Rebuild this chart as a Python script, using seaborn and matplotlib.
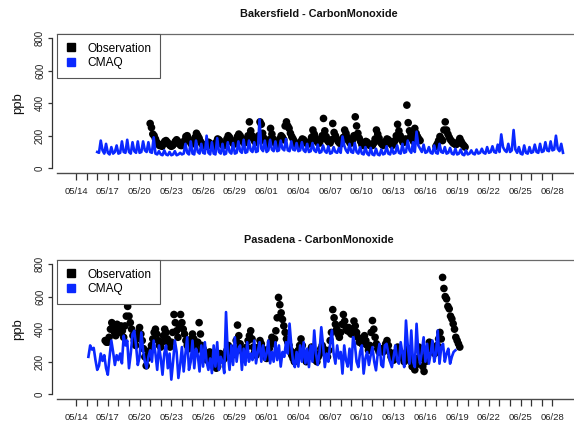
import numpy as np
import pandas as pd
import matplotlib
matplotlib.use("Agg")
import matplotlib.pyplot as plt
import matplotlib.transforms as mtransforms
from matplotlib.lines import Line2D
import seaborn as sns

plt.rcParams['font.family'] = ['Liberation Sans', 'DejaVu Sans']

nan = np.nan

# ---- data, x = days since 05/14 ----
date_labels = ["05/14", "05/17", "05/20", "05/23", "05/26", "05/29", "06/01", "06/04",
               "06/07", "06/10", "06/13", "06/16", "06/19", "06/22", "06/25", "06/28"]
y_ticks = [0, 200, 400, 600, 800]
cmaq_per_day = 6   # model values every 4 h
obs_per_day = 8    # observations every 3 h

bak_cmaq_start = 2
bak_cmaq = [
    100, 95, 170, 110, 90, 150,
    95, 85, 130, 90, 100, 140,
    90, 95, 165, 100, 95, 175,
    100, 90, 160, 105, 95, 165,
    95, 100, 165, 110, 100, 160,
    100, 95, 190, 90, 85, 105,
    85, 80, 110, 85, 80, 100,
    80, 85, 105, 80, 85, 95,
    85, 90, 150, 95, 85, 165,
    90, 85, 170, 100, 90, 150,
    95, 90, 200, 95, 85, 160,
    90, 85, 185, 100, 90, 150,
    85, 90, 160, 100, 90, 155,
    90, 95, 165, 105, 95, 175,
    95, 100, 170, 110, 100, 160,
    100, 105, 300, 120, 105, 170,
    100, 110, 175, 115, 105, 165,
    105, 110, 170, 120, 110, 180,
    110, 105, 165, 115, 110, 155,
    105, 110, 160, 110, 100, 150,
    100, 105, 155, 110, 100, 145,
    95, 100, 140, 105, 95, 135,
    90, 95, 130, 100, 95, 125,
    95, 195, 140, 110, 95, 150,
    100, 95, 155, 100, 90, 130,
    90, 85, 130, 90, 80, 125,
    85, 80, 120, 85, 80, 115,
    85, 90, 135, 90, 85, 125,
    90, 95, 140, 95, 90, 150,
    95, 100, 170, 110, 95, 160,
    100, 225, 140, 120, 100, 145,
    95, 100, 130, 95, 90, 140,
    95, 90, 150, 100, 95, 130,
    90, 95, 125, 90, 85, 120,
    85, 90, 115, 85, 80, 110,
    85, 90, 110, 90, 85, 115,
    90, 95, 120, 95, 90, 130,
    95, 100, 135, 100, 95, 145,
    100, 208, 130, 110, 100, 150,
    100, 110, 235, 115, 95, 130,
    90, 85, 140, 95, 90, 130,
    95, 100, 145, 100, 95, 150,
    100, 105, 160, 110, 105, 165,
    110, 115, 200, 120, 105, 150,
    95,
]

bak_obs_start = 7
bak_obs = [
    275, 250, 210, 200, 180, 160, 150, 140,
    140, 135, 150, 165, 170, 160, 150, 140,
    135, 140, 150, 165, 175, 165, 150, 140,
    140, 150, 170, 195, 200, 180, 165, 150,
    150, 165, 190, 215, 200, 185, 165, 150,
    145, 140, 135, 150, 160, 155, 140, 135,
    130, 140, 160, 180, 175, 165, 150, 140,
    140, 155, 180, 200, 190, 175, 160, 150,
    150, 170, 195, 210, 200, 185, 165, 155,
    160, 180, 200, 285, 230, 200, 180, 165,
    160, 180, 200, 285, 270, 215, 185, 165,
    145, 155, 175, 245, 210, 180, 160, 150,
    145, 160, 180, 200, 190, 175, 260, 285,
    260, 245, 215, 195, 180, 165, 150, 145,
    140, 150, 165, 180, 175, 165, 155, 150,
    150, 165, 190, 235, 210, 185, 165, 155,
    155, 175, 200, 306, 230, 195, 170, 160,
    155, 175, 275, 220, 200, 180, 165, 155,
    150, 165, 190, 235, 215, 190, 170, 155,
    155, 175, 200, 316, 260, 215, 185, 165,
    145, 140, 150, 165, 160, 150, 140, 140,
    140, 155, 180, 235, 210, 185, 160, 150,
    140, 150, 165, 180, 175, 165, 150, 140,
    150, 170, 200, 270, 230, 200, 175, 160,
    160, 180, 388, 280, 230, 200, 180, 165,
    245, 215, 195, 180, 170, nan, nan, nan,
    nan, nan, nan, nan, nan, nan, nan, nan,
    135, 150, 170, 195, 180, 170, 235, 285,
    235, 210, 190, 175, 165, 155, 150, 145,
    150, 165, 183, 165, 150, 140, 130, nan,
]

pas_cmaq_start = 1
pas_cmaq = [
    nan, 230, 300, 275, 285, 210,
    150, 175, 250, 205, 240, 160,
    120, 230, 330, 260, 180, 240,
    210, 250, 190, 360, 300, 330,
    160, 250, 370, 390, 300, 180,
    230, 380, 270, 200, 160, 230,
    270, 200, 330, 250, 150, 300,
    220, 120, 250, 300, 160, 250,
    90, 200, 330, 260, 100, 180,
    290, 140, 250, 350, 150, 200,
    330, 160, 280, 240, 140, 300,
    170, 320, 200, 150, 220, 130,
    300, 170, 320, 150, 230, 200,
    130, 505, 250, 150, 300, 180,
    350, 200, 280, 300, 150, 280,
    180, 320, 200, 250, 210, 330,
    190, 260, 320, 200, 300, 210,
    250, 330, 190, 260, 200, 320,
    210, 300, 170, 260, 230, 320,
    250, 434, 300, 200, 167, 260,
    170, 300, 200, 320, 190, 280,
    167, 300, 200, 392, 250, 180,
    260, 412, 300, 167, 250, 200,
    310, 392, 250, 188, 300, 220,
    260, 127, 300, 210, 170, 280,
    150, 351, 310, 200, 167, 260,
    300, 127, 220, 260, 180, 240,
    290, 200, 147, 250, 310, 180,
    167, 300, 310, 250, 200, 167,
    230, 300, 208, 188, 320, 250,
    167, 453, 300, 188, 392, 200,
    167, 433, 250, 188, 260, 350,
    200, 310, 188, 250, 330, 200,
    250, 392, 188, 290, 310, 200,
    250, 280, 188, 230, 260, 270,
]

pas_obs_start = 2
pas_obs = [
    nan, nan, nan, nan, nan, nan, 330, 320,
    320, 350, 400, 440, 420, 380, 360, 430,
    400, 380, 420, 390, 350, 420, 480, 540,
    480, 440, 400, 360, 330, 300, 340, 380,
    410, 370, 330, 280, 230, 175, 220, 260,
    270, 300, 340, 380, 400, 370, 330, 300,
    290, 320, 360, 400, 380, 340, 310, 290,
    320, 380, 490, 440, 390, 350, 420, 490,
    440, 400, 370, 330, 300, 280, 310, 340,
    370, 340, 300, 270, 320, 440, 370, 300,
    280, 250, 230, 210, 240, 260, 240, 220,
    200, 180, 160, 170, 210, 250, 230, 210,
    220, 240, 270, 300, 290, 260, 240, 250,
    280, 330, 425, 360, 310, 280, 260, 250,
    260, 290, 330, 360, 390, 340, 290, 260,
    240, 260, 290, 330, 310, 280, 250, 230,
    220, 240, 280, 320, 350, 310, 340, 390,
    470, 595, 550, 500, 460, 420, 380, 340,
    320, 300, 270, 240, 220, 200, 230, 260,
    270, 300, 340, 300, 250, 220, 200, 230,
    240, 270, 290, 260, 230, 210, 200, 230,
    250, 280, 300, 280, 260, 240, 230, 270,
    330, 380, 520, 470, 430, 400, 370, 350,
    380, 430, 490, 450, 410, 390, 410, 380,
    370, 400, 450, 420, 380, 350, 320, 330,
    310, 340, 360, 330, 300, 270, 300, 380,
    453, 400, 350, 310, 280, 260, 270, 280,
    260, 280, 310, 330, 300, 260, 230, 210,
    210, 230, 260, 290, 270, 250, 230, 220,
    200, 230, 260, 280, 240, 200, 170, 180,
    150, 180, 220, 290, 260, 220, 170, 140,
    200, 240, 280, 320, 310, 280, 260, 250,
    260, 300, 340, 380, 340, 718, 650, 600,
    586, 540, 525, 480, 463, 433, 400, 350,
    330, 310, 290, nan, nan, nan, nan, nan,
]

BLUE = "#0a28ff"
W, H = 574, 422
AX_LEFT, AX_W, AX_H = 57, 524, 139.3

fig = plt.figure(figsize=(W / 100, H / 100), dpi=100)

panels = [
    ("Bakersfield - CarbonMonoxide", bak_obs, bak_obs_start, bak_cmaq, bak_cmaq_start, 34.0),
    ("Pasadena - CarbonMonoxide", pas_obs, pas_obs_start, pas_cmaq, pas_cmaq_start, 260.0),
]

for title, obs, obs0, cmaq, cmaq0, top_px in panels:
    ax = fig.add_axes([AX_LEFT / W, 1 - (top_px + AX_H) / H, AX_W / W, AX_H / H])
    obs_df = pd.DataFrame({"day": obs0 + np.arange(len(obs)) / obs_per_day,
                           "ppb": obs}).dropna()
    cm_df = pd.DataFrame({"day": cmaq0 + np.arange(len(cmaq)) / cmaq_per_day,
                          "ppb": cmaq}).dropna()
    sns.scatterplot(data=obs_df, x="day", y="ppb", color="black", s=30,
                    edgecolor="none", linewidth=0, ax=ax, legend=False, zorder=2)
    sns.lineplot(data=cm_df, x="day", y="ppb", color=BLUE, linewidth=1.9,
                 estimator=None, sort=False, ax=ax, legend=False, zorder=3)

    ax.set_xlim(-1.8, 47.7)
    ax.set_ylim(-31, 825)
    ax.set_xlabel("")
    ax.set_ylabel("")
    ax.set_facecolor("white")

    ax.spines["right"].set_visible(False)
    ax.spines["top"].set_color("#6a6a6a")
    ax.spines["top"].set_linewidth(0.9)
    ax.spines["bottom"].set_color("#4a4a4a")
    ax.spines["bottom"].set_linewidth(1.0)
    ax.spines["left"].set_position(("outward", 3.6))
    ax.spines["left"].set_bounds(0, 800)
    ax.spines["left"].set_color("#333333")
    ax.spines["left"].set_linewidth(0.9)

    major = list(range(0, 46, 3))
    ax.set_xticks(major)
    ax.set_xticklabels(date_labels)
    ax.set_xticks(list(range(0, 46)), minor=True)
    ax.tick_params(axis="x", which="both", length=5, width=0.9, color="#333333",
                   pad=4.6, labelsize=6.8, labelcolor="#222222")
    ax.set_yticks(y_ticks)
    ax.set_yticklabels([str(v) for v in y_ticks])
    ax.tick_params(axis="y", length=3, width=0.9, color="#333333", pad=2,
                   labelsize=7.0, labelcolor="#222222")
    for lbl in ax.get_yticklabels():
        lbl.set_rotation(90)
        lbl.set_va("center")

    trans = mtransforms.blended_transform_factory(fig.transFigure, ax.transData)
    ax.text(18 / W, 400, "ppb", rotation=90, ha="center", va="center",
            fontsize=9.5, color="#111111", transform=trans)
    fig.text((AX_LEFT + AX_W / 2) / W, 1 - (top_px - 20) / H, title,
             ha="center", va="center", fontsize=7.8, fontweight="bold",
             color="#111111")

    handles = [Line2D([], [], marker="s", ls="none", color="black", markersize=6),
               Line2D([], [], marker="s", ls="none", color=BLUE, markersize=6)]
    leg = ax.legend(handles, ["Observation", "CMAQ"], loc="upper left",
                    bbox_to_anchor=(0, 1), borderaxespad=0, frameon=True,
                    fancybox=False, framealpha=1, edgecolor="#555555",
                    fontsize=8.6, handlelength=0.9, handletextpad=0.9,
                    borderpad=0.72, labelspacing=0.2)
    leg.get_frame().set_linewidth(0.8)
    leg.set_zorder(5)

fig.savefig("out.png", dpi=100, facecolor="white")
